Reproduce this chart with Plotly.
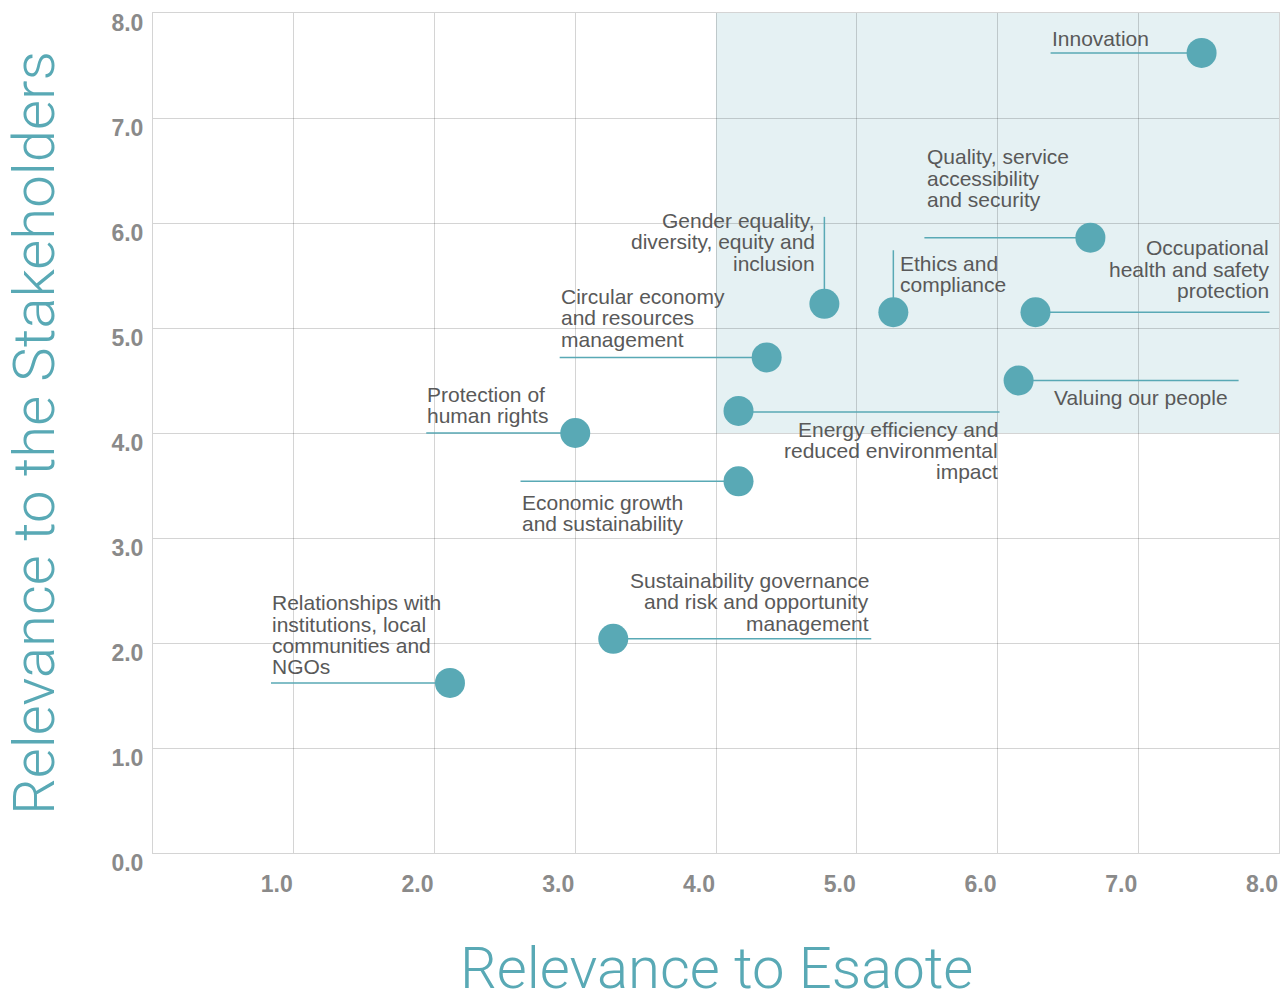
import plotly.graph_objects as go

# ---- data ----
topics = [
    "Innovation",
    "Quality, service<br>accessibility<br>and security",
    "Occupational<br>health and safety<br>protection",
    "Ethics and<br>compliance",
    "Gender equality,<br>diversity, equity and<br>inclusion",
    "Circular economy<br>and resources<br>management",
    "Valuing our people",
    "Energy efficiency and<br>reduced environmental<br>impact",
    "Protection of<br>human rights",
    "Economic growth<br>and sustainability",
    "Sustainability governance<br>and risk and opportunity<br>management",
    "Relationships with<br>institutions, local<br>communities and<br>NGOs",
]
relevance_esaote = [7.45, 6.66, 6.27, 5.26, 4.77, 4.36, 6.15, 4.16, 3.00, 4.16, 3.27, 2.11]
relevance_stakeholders = [7.62, 5.86, 5.15, 5.15, 5.23, 4.72, 4.50, 4.21, 4.00, 3.54, 2.04, 1.62]

tick_values = [0, 1, 2, 3, 4, 5, 6, 7, 8]
tick_labels = ["0.0", "1.0", "2.0", "3.0", "4.0", "5.0", "6.0", "7.0", "8.0"]
x_title = "Relevance to Esaote"
y_title = "Relevance to the Stakeholders"
material_zone = {"x": [4, 8], "y": [4, 8]}

# ---- styling / label placement (screen pixels relative to marker centre, down = +) ----
TEAL = "#59a9b5"
TEXT = "#595959"
TICK = "#8a8a8a"
GRID = "rgba(0,0,0,0.17)"
SHADE = "#e5f1f3"
LINE_H = 21.3

# (line dx0, dx1, dy0, dy1, text anchor, text dx, first text line dy)
placement = [
    (-151, 0, 0, 0, "left", -151, -14),
    (-166, 0, 0, 0, "left", -164, -81),
    (0, 234, 0, 0, "right", 234, -64.4),
    (0, 0, -62, 0, "left", 6, -49),
    (0, 0, -87, 0, "right", -8, -83.3),
    (-207, 0, 0, 0, "left", -207, -61),
    (0, 220, 0, 0, "right", 210, 17.3),
    (0, 261, 1, 1, "right", 260, 18.3),
    (-149, 0, 0, 0, "left", -149, -39),
    (-218, 0, 0, 0, "left", -218, 21),
    (0, 258, 0, 0, "right", 257, -58.3),
    (-179, 0, 0, 0, "left", -179, -80),
]

fig = go.Figure()

fig.add_trace(go.Scatter(
    x=relevance_esaote, y=relevance_stakeholders, mode="markers",
    marker=dict(size=30, color=TEAL, line=dict(width=0)),
    text=[t.replace("<br>", " ") for t in topics], hoverinfo="text",
    showlegend=False,
))

shapes = [dict(type="rect", xref="x", yref="y",
               x0=material_zone["x"][0], x1=material_zone["x"][1],
               y0=material_zone["y"][0], y1=material_zone["y"][1],
               fillcolor=SHADE, line=dict(width=0), layer="below")]
annotations = []
for topic, xv, yv, p in zip(topics, relevance_esaote, relevance_stakeholders, placement):
    lx0, lx1, ly0, ly1, anchor, tdx, tdy = p
    shapes.append(dict(type="line", xref="x", yref="y",
                       xsizemode="pixel", ysizemode="pixel",
                       xanchor=xv, yanchor=yv,
                       x0=lx0, x1=lx1, y0=-ly0, y1=-ly1,
                       line=dict(color=TEAL, width=1.5), layer="between"))
    for i, line in enumerate(topic.split("<br>")):
        annotations.append(dict(
            x=xv, y=yv, xref="x", yref="y", text=line, showarrow=False,
            xanchor=anchor, yanchor="middle", align=anchor,
            xshift=tdx, yshift=-(tdy + i * LINE_H), borderpad=0,
            font=dict(family="Liberation Sans, Arial, sans-serif", size=21, color=TEXT),
        ))

annotations.append(dict(
    text=x_title, xref="paper", yref="paper", x=0.5, y=0, yshift=-150,
    showarrow=False, xanchor="center", yanchor="bottom", borderpad=0,
    font=dict(family="Roboto, sans-serif", size=58, color=TEAL, weight=300),
))
annotations.append(dict(
    text=y_title, xref="paper", yref="paper", x=0, y=0.5, xshift=-119,
    showarrow=False, xanchor="center", yanchor="middle", textangle=-90,
    font=dict(family="Roboto, sans-serif", size=58, color=TEAL, weight=300),
))

tickfont = dict(family="Liberation Sans, Arial, sans-serif", size=23, color=TICK, weight="bold")

fig.update_layout(
    width=1285, height=1003,
    margin=dict(l=153, r=6, t=13, b=150, pad=0),
    paper_bgcolor="white", plot_bgcolor="white",
    shapes=shapes, annotations=annotations,
    xaxis=dict(range=[0, 8], tickvals=tick_values[1:], ticktext=tick_labels[1:],
               showgrid=True, gridcolor=GRID, gridwidth=1, zeroline=False,
               showline=True, mirror=True, linecolor=GRID, linewidth=1, ticks="",
               tickfont=tickfont, ticklabelshift=-17, ticklabelstandoff=10,
               fixedrange=True),
    yaxis=dict(range=[0, 8], tickvals=tick_values, ticktext=tick_labels,
               showgrid=True, gridcolor=GRID, gridwidth=1, zeroline=False,
               showline=True, mirror=True, linecolor=GRID, linewidth=1, ticks="",
               tickfont=tickfont, ticklabelshift=10, ticklabelstandoff=4,
               fixedrange=True),
)

fig.write_html("out.html")
